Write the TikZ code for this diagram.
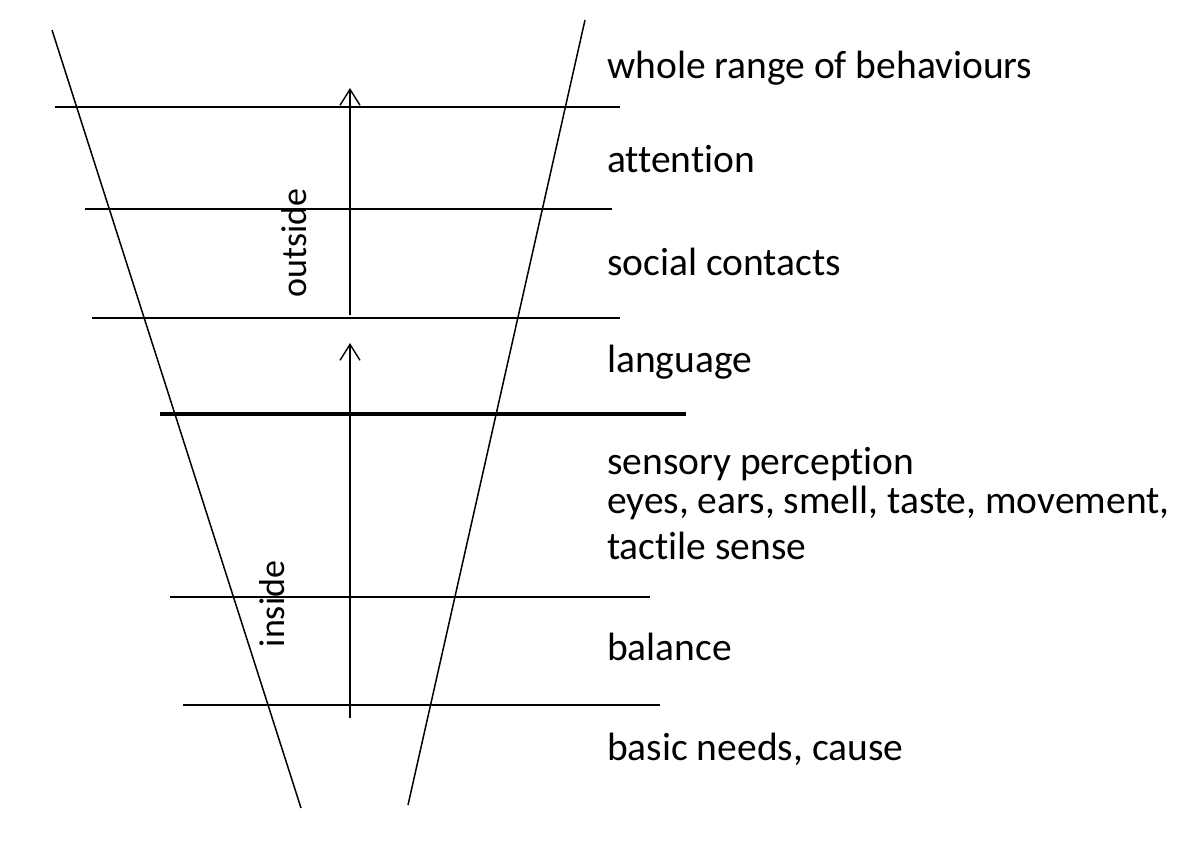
\documentclass[tikz,border=0pt]{standalone}
\usepackage{fontspec}
\setmainfont{Carlito}[Ligatures={NoCommon}]
\usetikzlibrary{arrows.meta}
\begin{document}
\begin{tikzpicture}[x=1pt,y=-1pt,
  thinline/.style={line width=1.5pt,black},
  thickline/.style={line width=3.6pt},
  uparrow/.style={-{Straight Barb[length=16pt,width=20pt,line width=1.4pt]}},
  lbl/.style={anchor=base west,inner sep=0pt,font=\fontsize{39.5}{44}\selectfont},
  side/.style={inner sep=0pt,rotate=90,font=\fontsize{36}{40}\selectfont}]
\useasboundingbox (0,0) rectangle (1186,851);
% funnel sides
\draw[thinline] (52,30) -- (301,808);
\draw[thinline] (585,20) -- (408,805);
% level lines
\draw[thinline] (55,107) -- (620,107);
\draw[thinline] (85,209) -- (612,209);
\draw[thinline] (92,318) -- (620,318);
\draw[thickline] (160,414) -- (686,414);
\draw[thinline] (170,597) -- (650,597);
\draw[thinline] (183,705) -- (660,705);
% arrows
\coordinate (o1) at (350,315);
\coordinate (o2) at (350,88);
\coordinate (i1) at (350,718);
\coordinate (i2) at (350,343);
\draw[uparrow,line width=2.2pt] (o1) -- (o2);
\draw[uparrow,line width=1.5pt] (i1) -- (i2);
% side labels
\node[side] (outside) at (294,243) {outside};
\node[side] (inside) at (272,604) {inside};
% level labels
\node[lbl] (l1) at (607,78) {whole range of behaviours};
\node[lbl] (l2) at (607,172) {attention};
\node[lbl] (l3) at (607,275) {social contacts};
\node[lbl] (l4) at (607,372) {language};
\node[lbl] (l5) at (607,474) {sensory perception};
\node[lbl] (l6) at (607,513) {eyes, ears, smell, taste, movement,};
\node[lbl] (l7) at (607,559) {tactile sense};
\node[lbl] (l8) at (607,660) {balance};
\node[lbl] (l9) at (607,760) {basic needs, cause};
\end{tikzpicture}
\end{document}
